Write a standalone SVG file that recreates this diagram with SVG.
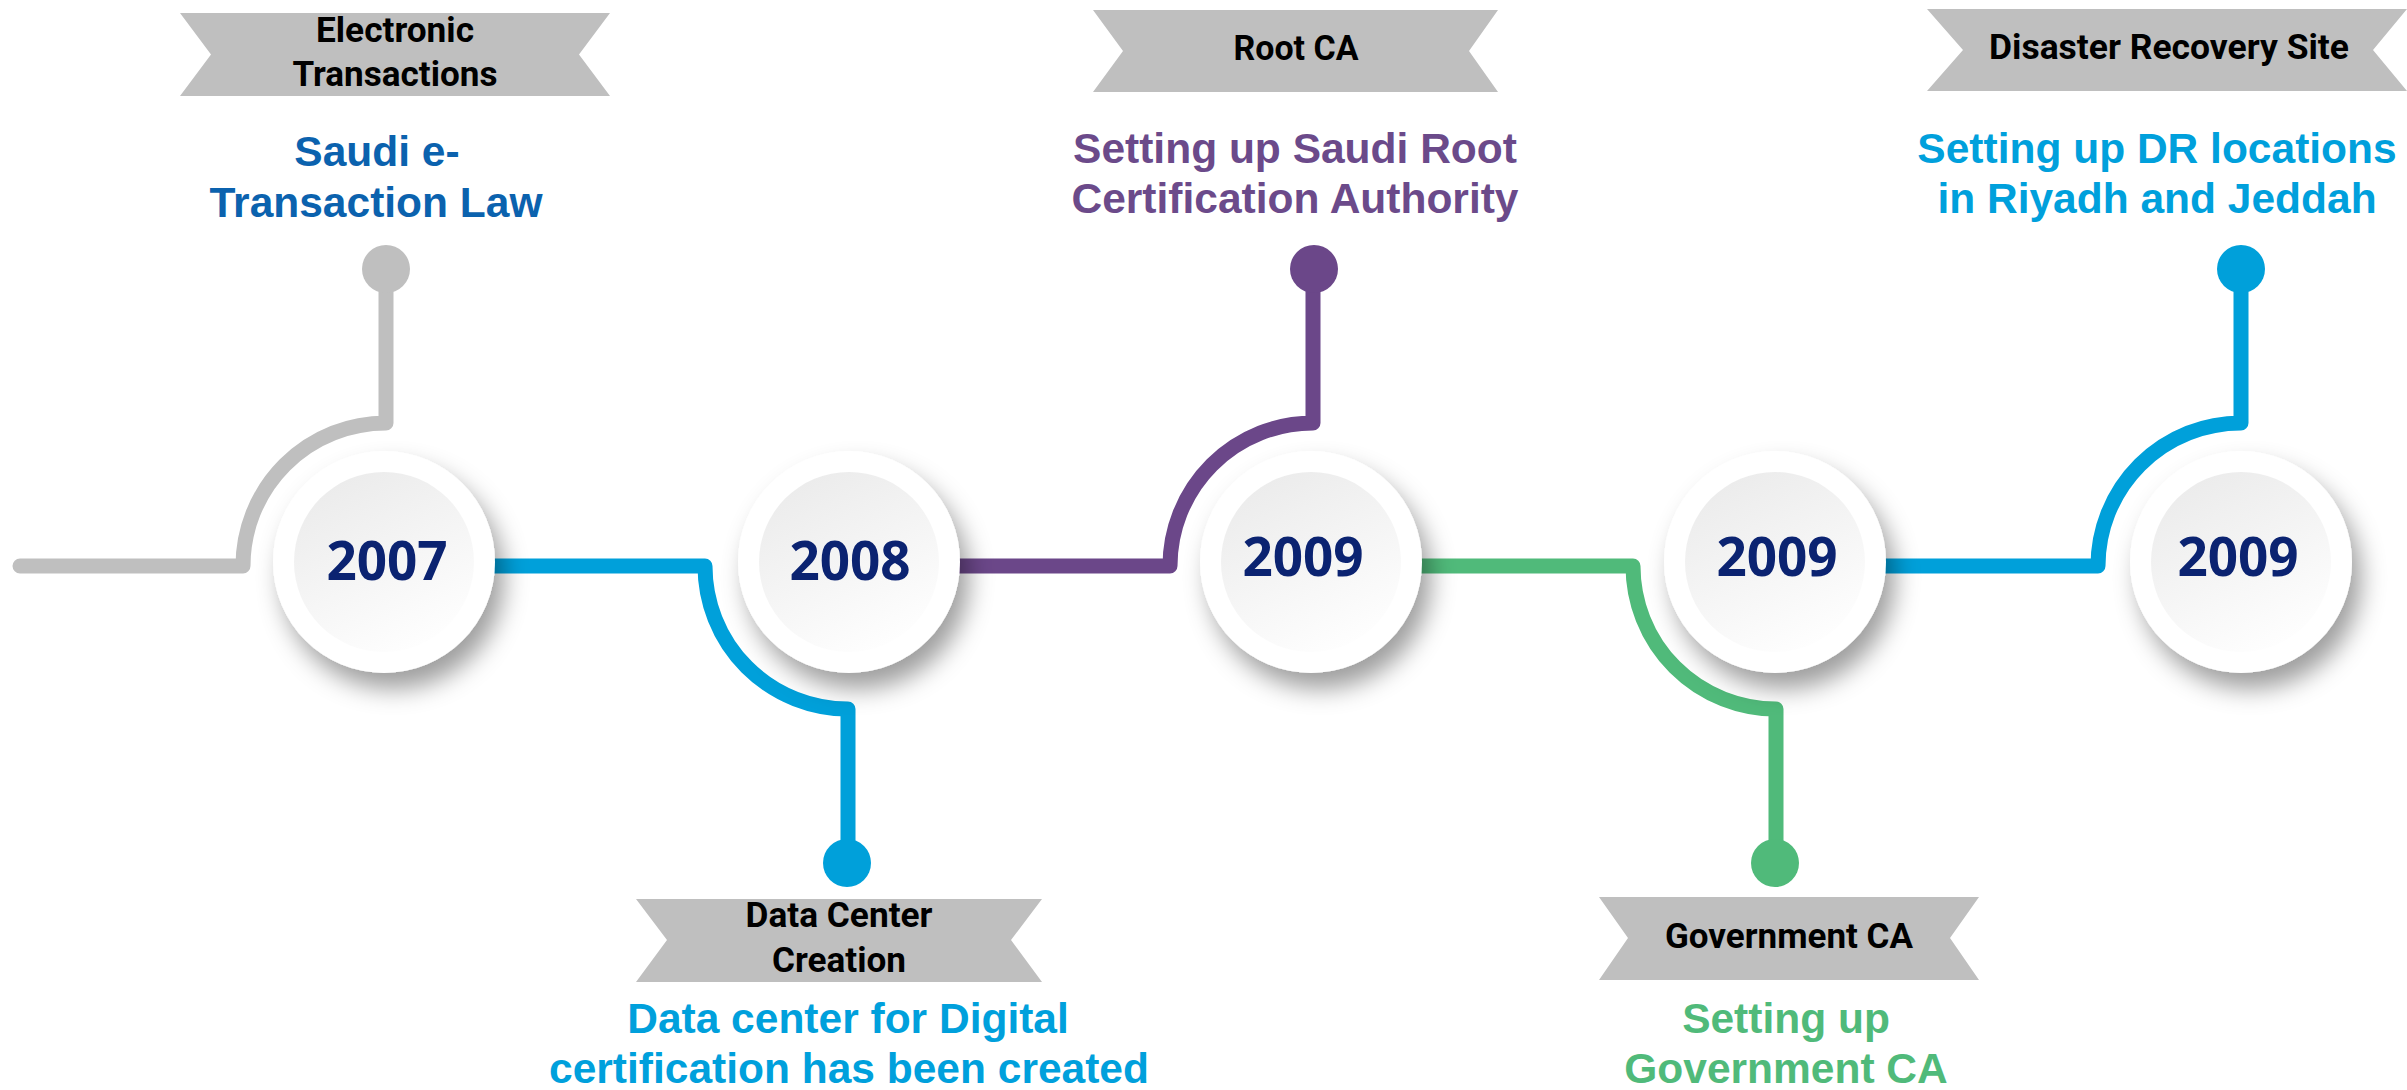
<svg xmlns="http://www.w3.org/2000/svg" width="2407" height="1090" viewBox="0 0 2407 1090">
  <defs>
    <style>
      .line{fill:none;stroke-width:15;stroke-linecap:round;stroke-linejoin:round}
      .banner{fill:#BFBFBF}
      .btxt{font-family:Roboto,"Open Sans","Liberation Sans",sans-serif;font-weight:700;font-size:35px;fill:#000;text-anchor:middle}
      .desc{font-family:"Liberation Sans",Arial,sans-serif;font-weight:700;font-size:42.5px;text-anchor:middle}
      .year{font-family:"Open Sans","Liberation Sans",sans-serif;font-weight:700;font-size:53px;fill:#0B2371;text-anchor:middle}
      .outer{fill:#FFFFFF}
    </style>
    <filter id="shadow" x="-40%" y="-40%" width="190%" height="190%">
      <feDropShadow dx="9" dy="16" stdDeviation="12" flood-color="#000" flood-opacity="0.38"/>
    </filter>
    <linearGradient id="inner" x1="0.25" y1="0" x2="0.75" y2="1">
      <stop offset="0" stop-color="#EBEBEB"/>
      <stop offset="1" stop-color="#FFFFFF"/>
    </linearGradient>
  </defs>

  <g id="connectors">
    <path class="line" stroke="#BFBFBF" d="M20,566 H243 A143,143 0 0 1 386,423 V270"/>
    <circle cx="386" cy="269" r="24" fill="#BFBFBF"/>
    <path class="line" stroke="#00A0DA" d="M400,566 H705 A143,143 0 0 0 848,709 V862"/>
    <circle cx="847" cy="863" r="24" fill="#00A0DA"/>
    <path class="line" stroke="#6B4789" d="M860,566 H1170 A143,143 0 0 1 1313,423 V270"/>
    <circle cx="1314" cy="269" r="24" fill="#6B4789"/>
    <path class="line" stroke="#50BA7A" d="M1320,566 H1633 A143,143 0 0 0 1776,709 V862"/>
    <circle cx="1775" cy="863" r="24" fill="#50BA7A"/>
    <path class="line" stroke="#00A0DA" d="M1780,566 H2098 A143,143 0 0 1 2241,423 V270"/>
    <circle cx="2241" cy="269" r="24" fill="#00A0DA"/>
  </g>

  <g id="node-2007">
    <circle class="outer" cx="384" cy="562" r="111" filter="url(#shadow)"/>
    <circle cx="384" cy="562" r="90" fill="url(#inner)"/>
    <text class="year" x="387" y="580">2007</text>
  </g>
  <g id="node-2008">
    <circle class="outer" cx="849" cy="562" r="111" filter="url(#shadow)"/>
    <circle cx="849" cy="562" r="90" fill="url(#inner)"/>
    <text class="year" x="850" y="580">2008</text>
  </g>
  <g id="node-2009-root">
    <circle class="outer" cx="1311" cy="562" r="111" filter="url(#shadow)"/>
    <circle cx="1311" cy="562" r="90" fill="url(#inner)"/>
    <text class="year" x="1303" y="576">2009</text>
  </g>
  <g id="node-2009-gov">
    <circle class="outer" cx="1775" cy="562" r="111" filter="url(#shadow)"/>
    <circle cx="1775" cy="562" r="90" fill="url(#inner)"/>
    <text class="year" x="1777" y="576">2009</text>
  </g>
  <g id="node-2009-dr">
    <circle class="outer" cx="2241" cy="562" r="111" filter="url(#shadow)"/>
    <circle cx="2241" cy="562" r="90" fill="url(#inner)"/>
    <text class="year" x="2238" y="576">2009</text>
  </g>

  <g id="label-electronic">
    <polygon class="banner" points="180,13 610,13 579,54.5 610,96 180,96 211,54.5"/>
    <text class="btxt" x="395" y="42" textLength="158" lengthAdjust="spacingAndGlyphs">Electronic</text>
    <text class="btxt" x="395" y="86" textLength="205" lengthAdjust="spacingAndGlyphs">Transactions</text>
    <text class="desc" fill="#0B62AE" x="377" y="166">Saudi e-</text>
    <text class="desc" fill="#0B62AE" x="376" y="217">Transaction Law</text>
  </g>
  <g id="label-datacenter">
    <polygon class="banner" points="636,899 1042,899 1011,940 1042,982 636,982 667,940"/>
    <text class="btxt" x="839" y="927" textLength="187" lengthAdjust="spacingAndGlyphs">Data Center</text>
    <text class="btxt" x="839" y="972" textLength="134" lengthAdjust="spacingAndGlyphs">Creation</text>
    <text class="desc" fill="#00A0DC" x="848" y="1033">Data center for Digital</text>
    <text class="desc" fill="#00A0DC" x="849" y="1083">certification has been created</text>
  </g>
  <g id="label-rootca">
    <polygon class="banner" points="1093,10 1498,10 1469,51 1498,92 1093,92 1123,51"/>
    <text class="btxt" x="1296" y="60" textLength="125" lengthAdjust="spacingAndGlyphs">Root CA</text>
    <text class="desc" fill="#6B4A8A" x="1295" y="163">Setting up Saudi Root</text>
    <text class="desc" fill="#6B4A8A" x="1295" y="213">Certification Authority</text>
  </g>
  <g id="label-govca">
    <polygon class="banner" points="1599,897 1979,897 1950,938 1979,980 1599,980 1628,938"/>
    <text class="btxt" x="1789" y="948" textLength="248" lengthAdjust="spacingAndGlyphs">Government CA</text>
    <text class="desc" fill="#50BA7A" x="1786" y="1033">Setting up</text>
    <text class="desc" fill="#50BA7A" x="1786" y="1083">Government CA</text>
  </g>
  <g id="label-dr">
    <polygon class="banner" points="1927,9 2407,9 2373,50 2407,91 1927,91 1963,50"/>
    <text class="btxt" x="2169" y="59" textLength="360" lengthAdjust="spacingAndGlyphs">Disaster Recovery Site</text>
    <text class="desc" fill="#00A0DC" x="2157" y="163">Setting up DR locations</text>
    <text class="desc" fill="#00A0DC" x="2157" y="213">in Riyadh and Jeddah</text>
  </g>
</svg>
